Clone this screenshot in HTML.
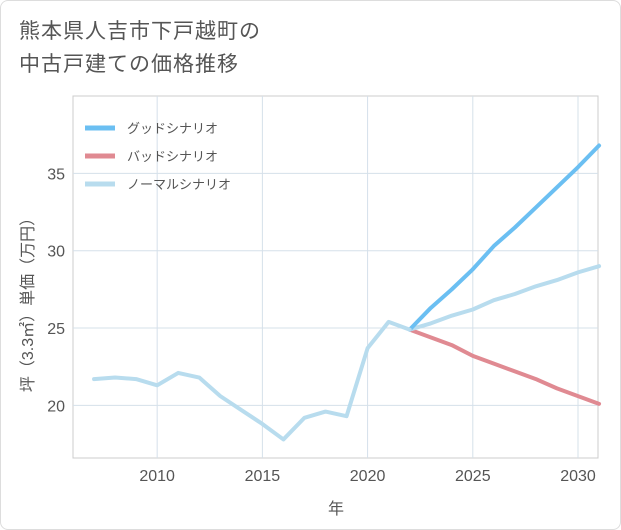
<!DOCTYPE html>
<html><head><meta charset="utf-8"><style>
body{margin:0;background:#fff;}
#wrap{position:relative;width:619px;height:528px;border:1px solid #ddd;border-radius:8px;background:#fff;font-family:"Liberation Sans","Noto Sans CJK JP",sans-serif;overflow:hidden}
#title{position:absolute;left:18px;top:14px;font-size:21px;line-height:33px;color:#555;letter-spacing:1px}
svg{position:absolute;left:0;top:0}
</style></head><body>
<div id="wrap">
<div id="title">熊本県人吉市下戸越町の<br>中古戸建ての価格推移</div>
<svg id="chart" width="621" height="530"></svg>
</div>
<script>
const years=[2007,2008,2009,2010,2011,2012,2013,2014,2015,2016,2017,2018,2019,2020,2021,2022];
const hist=[21.7,21.8,21.7,21.3,22.1,21.8,20.6,19.7,18.8,17.8,19.2,19.6,19.3,23.7,25.4,24.9];
const fYears=[2022,2023,2024,2025,2026,2027,2028,2029,2030,2031];
const good=[24.9,26.3,27.5,28.8,30.3,31.5,32.8,34.1,35.4,36.8];
const bad=[24.9,24.4,23.9,23.2,22.7,22.2,21.7,21.1,20.6,20.1];
const normal=[24.9,25.3,25.8,26.2,26.8,27.2,27.7,28.1,28.6,29.0];
const xTicks=[2010,2015,2020,2025,2030];
const yTicks=[20,25,30,35];
const L=72,R=597,T=95,B=457;
const x=v=>L+(v-2006.0)/(2030.95-2006.0)*(R-L);
const y=v=>B-(v-16.6)/(40-16.6)*(B-T);
const svg=document.getElementById('chart');
const NS='http://www.w3.org/2000/svg';
function mk(t,a){const e=document.createElementNS(NS,t);for(const k in a)e.setAttribute(k,a[k]);svg.appendChild(e);return e;}
const bg=mk('rect',{x:L,y:T,width:R-L,height:B-T,fill:'#fff',stroke:'#ccc'});


xTicks.forEach(v=>{const g=mk('line',{x1:x(v),x2:x(v),y1:T,y2:B,stroke:'#d5e0ea'});


const t=mk('text',{x:x(v),y:B+23,'text-anchor':'middle','font-size':16,fill:'#555'});t.textContent=v;

});
yTicks.forEach(v=>{const g=mk('line',{x1:L,x2:R,y1:y(v),y2:y(v),stroke:'#d5e0ea'});


const t=mk('text',{x:L-8,y:y(v)+6,'text-anchor':'end','font-size':16,fill:'#555'});t.textContent=v;

});
function line(xs,ys,c,name){const p=mk('polyline',{points:xs.map((v,i)=>x(v)+','+y(ys[i])).join(' '),fill:'none',stroke:c,'stroke-width':4,'stroke-linejoin':'round','stroke-linecap':'round'});

}
line(fYears,bad,'#e08a92','bad-scenario-line');
line(fYears,normal,'#b8dcee','normal-scenario-line');
line(fYears,good,'#6bbff2','good-scenario-line');
line(years,hist,'#b8dcee','historical-line');
const lg=[['グッドシナリオ','#6bbff2'],['バッドシナリオ','#e08a92'],['ノーマルシナリオ','#b8dcee']];
lg.forEach((d,i)=>{const yy=127+i*28;const l=mk('line',{x1:84,x2:114,y1:yy,y2:yy,stroke:d[1],'stroke-width':5});


const t=mk('text',{x:126,y:yy+5,'font-size':13,fill:'#555'});t.textContent=d[0];

});
const xt=mk('text',{x:335,y:513,'text-anchor':'middle','font-size':16,fill:'#555'});xt.textContent='年';


const yt=mk('text',{x:0,y:0,'text-anchor':'middle','font-size':16,fill:'#555',transform:'translate(32,300) rotate(-90)'});yt.textContent='坪（3.3㎡）単価（万円）';


</script>
</body></html>
